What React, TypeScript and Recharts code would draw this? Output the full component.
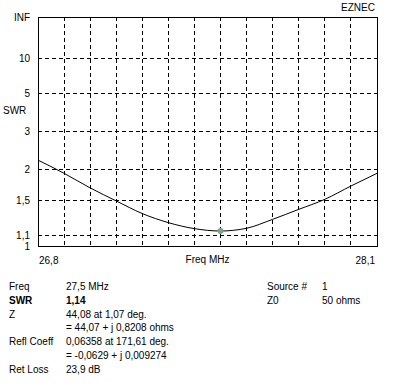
import React from "react";
import {
  LineChart,
  Line,
  XAxis,
  YAxis,
  CartesianGrid,
  ReferenceArea,
  ReferenceDot,
} from "recharts";

// Frequency steps (MHz) and SWR
const freqs = [26.8, 26.9, 27.0, 27.1, 27.2, 27.3, 27.4, 27.5, 27.6, 27.7, 27.8, 27.9, 28.0, 28.1];
const swrValues = [2.2, 1.93, 1.68, 1.49, 1.33, 1.227, 1.164, 1.14, 1.168, 1.264, 1.381, 1.512, 1.71, 1.93];

// SWR axis ticks and labels
const swrTicks = [1, 1.1, 1.5, 2, 3, 5, 10, Infinity];
const swrLabels = ["1", "1,1", "1,5", "2", "3", "5", "10", "INF"];

// readout marker
const markerFreq = 27.5;
const markerSwr = 1.14;

const infoLeft = [
  ["Freq", "27,5 MHz"],
  ["SWR", "1,14"],
  ["Z", "44,08 at 1,07 deg."],
  ["", "= 44,07 + j 0,8208 ohms"],
  ["Refl Coeff", "0,06358 at 171,61 deg."],
  ["", "= -0,0629 + j 0,009274"],
  ["Ret Loss", "23,9 dB"],
];
const infoRight = [
  ["Source #", "1"],
  ["Z0", "50 ohms"],
];

const FONT = '"Liberation Sans", Arial, sans-serif';

// EZNEC draws SWR linear in reflection coefficient
const rho = (s: number) => (s === Infinity ? 1 : (s - 1) / (s + 1));

const data = freqs.map((f, i) => ({ f, r: rho(swrValues[i]) }));
const yTicks = swrTicks.map(rho);

const XTick = (props: any) => {
  const { x, y, index } = props;
  if (index === 0)
    return (
      <text x={x + 1} y={y} dy={10} textAnchor="start" fontSize={10} fontFamily={FONT} fill="#000">
        26,8
      </text>
    );
  if (index === freqs.length - 1)
    return (
      <text x={x - 2} y={y} dy={10} textAnchor="end" fontSize={10} fontFamily={FONT} fill="#000">
        28,1
      </text>
    );
  return null;
};

const txt = (s: string, left: number, cy: number, extra: any = {}) => (
  <div
    style={{
      position: "absolute",
      left,
      top: cy - 6,
      lineHeight: "12px",
      fontSize: 10,
      fontFamily: FONT,
      whiteSpace: "nowrap",
      color: "#000",
      ...extra,
    }}
  >
    {s}
  </div>
);

export default function App() {
  return (
    <div style={{ position: "relative", width: 412, height: 386, background: "#fff", overflow: "hidden" }}>
      <style>{`body{margin:0}`}</style>
      <LineChart width={412} height={270} data={data} margin={{ top: 17, right: 35, left: 0, bottom: 0 }}>
        <CartesianGrid stroke="#000" strokeDasharray="4 3" shapeRendering="crispEdges" />
        <XAxis
          dataKey="f"
          type="number"
          domain={[26.8, 28.1]}
          ticks={freqs}
          interval={0}
          axisLine={false}
          tickLine={false}
          height={24}
          tick={<XTick />}
        />
        <YAxis
          type="number"
          domain={[0, 1]}
          ticks={yTicks}
          interval={0}
          width={38}
          axisLine={false}
          tickLine={false}
          tickFormatter={(v: number) => swrLabels[yTicks.indexOf(v)] ?? ""}
          tick={{ fill: "#000", fontSize: 10, fontFamily: FONT }}
        />
        <ReferenceArea
          x1={26.8}
          x2={28.1}
          y1={0}
          y2={1}
          fill="none"
          fillOpacity={0}
          stroke="#000"
          strokeWidth={1}
          shapeRendering="crispEdges"
        />
        <Line
          type="monotone"
          dataKey="r"
          stroke="#000"
          strokeWidth={1}
          dot={false}
          isAnimationActive={false}
        />
        <ReferenceDot x={markerFreq} y={rho(markerSwr)} r={3} fill="#7aa58a" stroke="none" />
      </LineChart>
      {txt("EZNEC", 0, 8, { left: "auto", right: 37 })}
      {txt("SWR", 3, 111)}
      {txt("Freq MHz", 0, 260, { left: 38, width: 339, textAlign: "center" })}
      {infoLeft.map((row, i) => (
        <React.Fragment key={i}>
          {row[0] && txt(row[0], 9, 287 + i * 13.8, i === 1 ? { fontWeight: "bold" } : {})}
          {txt(row[1], 66, 287 + i * 13.8, i === 1 ? { fontWeight: "bold" } : {})}
        </React.Fragment>
      ))}
      {infoRight.map((row, i) => (
        <React.Fragment key={i}>
          {txt(row[0], 267, 287 + i * 13.8)}
          {txt(row[1], 322, 287 + i * 13.8)}
        </React.Fragment>
      ))}
    </div>
  );
}
